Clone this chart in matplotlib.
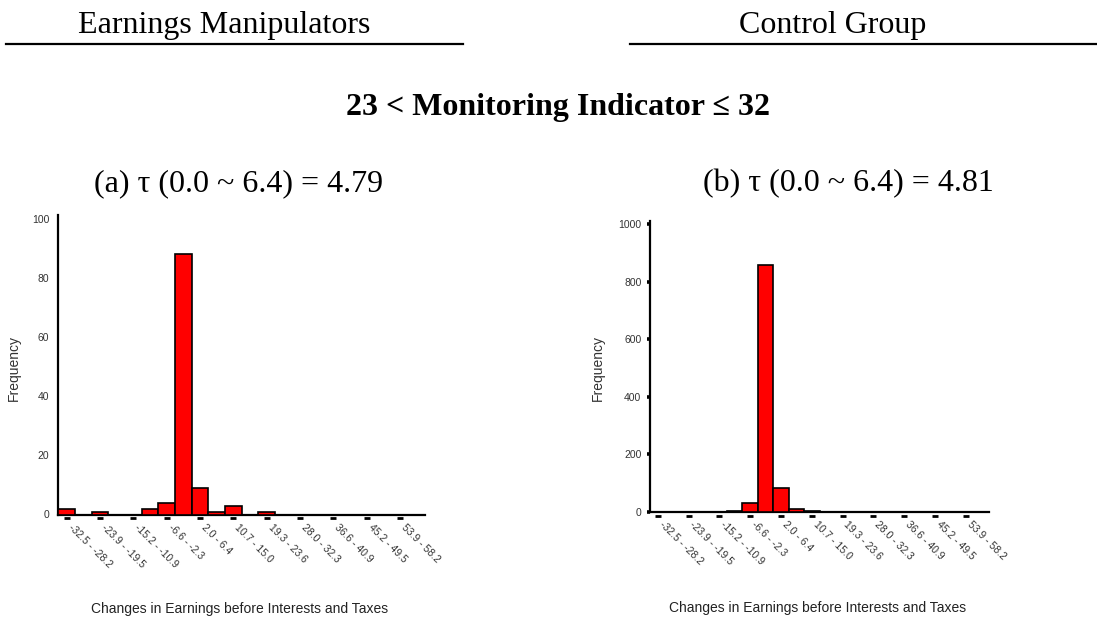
import numpy as np
import matplotlib.pyplot as plt
from matplotlib.lines import Line2D
from matplotlib.transforms import ScaledTranslation, offset_copy

# histogram bins of the change in EBIT (every other bin is labelled)
bin_labels = ["-32.5 - -28.2", "-23.9 - -19.5", "-15.2 - -10.9", "-6.6 - -2.3",
              "2.0 - 6.4", "10.7 - 15.0", "19.3 - 23.6", "28.0 - 32.3",
              "36.6 - 40.9", "45.2 - 49.5", "53.9 - 58.2"]

manip_freq = [2, 0, 1, 0, 0, 2, 4, 88, 9, 1, 3, 0, 1, 0, 0, 0, 0, 0, 0, 0, 0, 0]
ctrl_freq = [0, 0, 0, 0, 0, 5, 32, 858, 84, 9, 5, 0, 0, 0, 0, 0, 0, 0, 0, 0, 0, 0]

manip_yticks = [0, 20, 40, 60, 80, 100]
ctrl_yticks = [0, 200, 400, 600, 800, 1000]

W, H = 1097, 619
fig = plt.figure(figsize=(W / 100, H / 100), dpi=100)

SERIF = "Liberation Serif"
SANS = "Liberation Sans"


def box(x0, y0, x1, y1):
    return [x0 / W, 1 - y1 / H, (x1 - x0) / W, (y1 - y0) / H]


def draw_hist(ax, freq, yticks, ytop, ytick_marks):
    idx = np.arange(len(freq))
    ax.bar(idx, freq, width=1.0, color="#ff0000", edgecolor="black",
           linewidth=1.2, zorder=3)
    ax.set_xlim(-0.5, len(freq) - 0.5)
    ax.set_ylim(0, ytop)
    for s in ("top", "right"):
        ax.spines[s].set_visible(False)
    for s in ("left", "bottom"):
        ax.spines[s].set_linewidth(1.6)
    ax.set_yticks(yticks)
    ax.set_yticklabels([str(v) for v in yticks], fontsize=7.5, family=SANS,
                       color="#333333")
    if ytick_marks:
        ax.tick_params(axis="y", length=2.2, width=2.6, pad=4)
    else:
        ax.tick_params(axis="y", length=0, pad=6.5)

    lab_pos = idx[::2][:len(bin_labels)]
    ax.set_xticks(lab_pos)
    ax.set_xticklabels(bin_labels, rotation=-45, ha="left", va="center",
                       rotation_mode="anchor", fontsize=7.5, family=SANS,
                       color="#333333")
    ax.tick_params(axis="x", length=0, pad=8)
    for lab in ax.get_xticklabels():
        lab.set_transform(lab.get_transform() +
                          ScaledTranslation(3 / 100, 0, fig.dpi_scale_trans))

    # little dashes under the labelled bins
    dash_tr = offset_copy(ax.get_xaxis_transform(), fig=fig, y=-3.5, units="dots")
    ax.plot(lab_pos, np.zeros(len(lab_pos)), linestyle="none", marker="_",
            markersize=4.5, markeredgewidth=2, color="black",
            transform=dash_tr, clip_on=False)

    ax.set_ylabel("Frequency", fontsize=10, family=SANS, color="#333333")
    ax.set_xlabel("Changes in Earnings before Interests and Taxes",
                  fontsize=10, family=SANS, color="#222222")
    ax.xaxis.label.set_va("center")
    ax.yaxis.label.set_va("center")


ax1 = fig.add_axes(box(58.3, 215, 425, 514.5))
draw_hist(ax1, manip_freq, manip_yticks, 101.35, False)
ax1.xaxis.set_label_coords((240 - 58.3) / (425 - 58.3), (514.5 - 609) / (514.5 - 215))
ax1.yaxis.set_label_coords((14 - 58.3) / (425 - 58.3), (514.5 - 368) / (514.5 - 215))

ax2 = fig.add_axes(box(650, 220.7, 989, 512))
draw_hist(ax2, ctrl_freq, ctrl_yticks, 1011.5, True)
ax2.xaxis.set_label_coords((818 - 650) / (989 - 650), (512 - 608) / (512 - 220.7))
ax2.yaxis.set_label_coords((598 - 650) / (989 - 650), (512 - 368) / (512 - 220.7))

# group headings with their rules
fig.text(224 / W, 1 - 26 / H, "Earnings Manipulators", ha="center", va="center",
         fontsize=23, family=SERIF)
fig.text(833 / W, 1 - 26 / H, "Control Group", ha="center", va="center",
         fontsize=23, family=SERIF)
fig.add_artist(Line2D([6 / W, 463 / W], [1 - 44 / H, 1 - 44 / H],
                      color="black", linewidth=1.6))
fig.add_artist(Line2D([630 / W, 1.0], [1 - 44 / H, 1 - 44 / H],
                      color="black", linewidth=1.6))

fig.text(558 / W, 1 - 107 / H, "23 < Monitoring Indicator \u2264 32",
         ha="center", va="center", fontsize=23, fontweight="bold", family=SERIF)

fig.text(239 / W, 1 - 184 / H, "(a) \u03c4 (0.0 ~ 6.4) = 4.79",
         ha="center", va="center", fontsize=23, family=SERIF)
fig.text(848 / W, 1 - 184 / H, "(b) \u03c4 (0.0 ~ 6.4) = 4.81",
         ha="center", va="center", fontsize=23, family=SERIF)

fig.savefig("out.png", dpi=100)
